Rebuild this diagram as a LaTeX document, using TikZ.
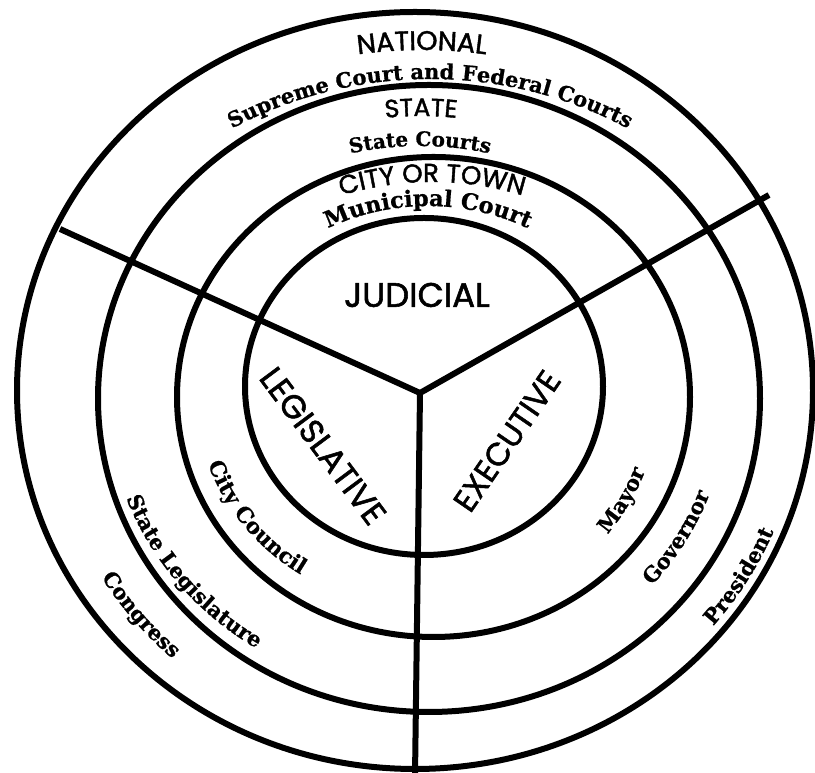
\documentclass[tikz,border=0pt]{standalone}
\usepackage{fontspec}
\usetikzlibrary{decorations.text,calc}
\newfontfamily\gsans{Poppins}[FakeBold=1.6]
\newfontfamily\serfam{DejaVu Serif}[BoldFeatures={FakeBold=0.8}]
\newcommand\sansat[1]{\gsans\fontsize{#1}{#1}\selectfont}
\newcommand\serifat[1]{\serfam\bfseries\fontsize{#1}{#1}\selectfont}
\begin{document}
\begin{tikzpicture}[x=1pt,y=1pt,
  ring/.style={line width=6pt},
  spoke/.style={line width=6pt,line join=miter},
  arctext/.style={decorate,decoration={text along path,text align=center,text={#1}}},
  bigword/.style={inner sep=0pt,font=\sansat{32}},
]
\useasboundingbox (0,0) rectangle (815,773);
% rings
\draw[ring] (424,386.5) ellipse [x radius=179pt, y radius=168.5pt];
\draw[ring] (433.5,376) ellipse [x radius=256.5pt, y radius=240pt];
\draw[ring] (429,374.5) ellipse [x radius=331pt, y radius=313.5pt];
\draw[ring] (415,382.5) ellipse [x radius=398pt, y radius=378.5pt];
% spokes
\coordinate (J) at (420,380);
\coordinate (Lend) at (60,544);
\coordinate (Rend) at (769,578);
\coordinate (Bend) at (415,-3);
\draw[spoke] (Lend) -- (J) -- (Rend);
\draw[spoke] (J) -- (Bend);
% top texts
\coordinate (cNat) at (422,253);
\coordinate (cSup) at (430,274);
\coordinate (cSta) at (421,327);
\coordinate (cStc) at (420,297);
\coordinate (cCit) at (432,281);
\coordinate (cMun) at (428,332);
\path[arctext={|\sansat{27}|NATIONAL}] ($(cNat)+(110:470pt)$) arc[start angle=110, end angle=70, radius=470pt];
\path[arctext={|\serifat{21}|Supreme Court and Federal Courts}] ($(cSup)+(125:420pt)$) arc[start angle=125, end angle=55, radius=420pt];
\path[arctext={|\sansat{25}|STATE}] ($(cSta)+(110:330pt)$) arc[start angle=110, end angle=70, radius=330pt];
\path[arctext={|\serifat{20}|State Courts}] ($(cStc)+(115:330pt)$) arc[start angle=115, end angle=65, radius=330pt];
\path[arctext={|\sansat{26}|CITY OR TOWN}] ($(cCit)+(125:310pt)$) arc[start angle=125, end angle=55, radius=310pt];
\path[arctext={|\serifat{22.5}|Municipal Court}] ($(cMun)+(145:235pt)$) arc[start angle=145, end angle=35, radius=235pt];
% centre words
\node[inner sep=0pt, font=\sansat{34}] (jud) at (417,478) {JUDICIAL};
\node[bigword, font=\sansat{33}, rotate=-53.3] (leg) at (323,327) {LEGISLATIVE};
\node[bigword, rotate=55.5] (exe) at (507,332) {EXECUTIVE};
% sector labels
\coordinate (O) at (422,381);
\path[arctext={|\serifat{21.5}|City Council}] ($(O)+(172:227pt and 216pt)$) arc[start angle=172, end angle=264, x radius=227pt, y radius=216pt];
\path[arctext={|\serifat{21}|State Legislature}] ($(O)+(175:316pt and 301pt)$) arc[start angle=175, end angle=263, x radius=316pt, y radius=301pt];
\path[arctext={|\serifat{21}|Congress}] ($(O)+(190:375pt and 357pt)$) arc[start angle=190, end angle=249, x radius=375pt, y radius=357pt];
\path[arctext={|\serifat{21}|Mayor}] ($(O)+(300:238pt and 227pt)$) arc[start angle=300, end angle=361.4, x radius=238pt, y radius=227pt];
\path[arctext={|\serifat{21}|Governor}] ($(O)+(299:307pt and 292pt)$) arc[start angle=299, end angle=359.6, x radius=307pt, y radius=292pt];
\path[arctext={|\serifat{21}|President}] ($(O)+(300:381pt and 363pt)$) arc[start angle=300, end angle=357.8, x radius=381pt, y radius=363pt];
\end{tikzpicture}
\end{document}
